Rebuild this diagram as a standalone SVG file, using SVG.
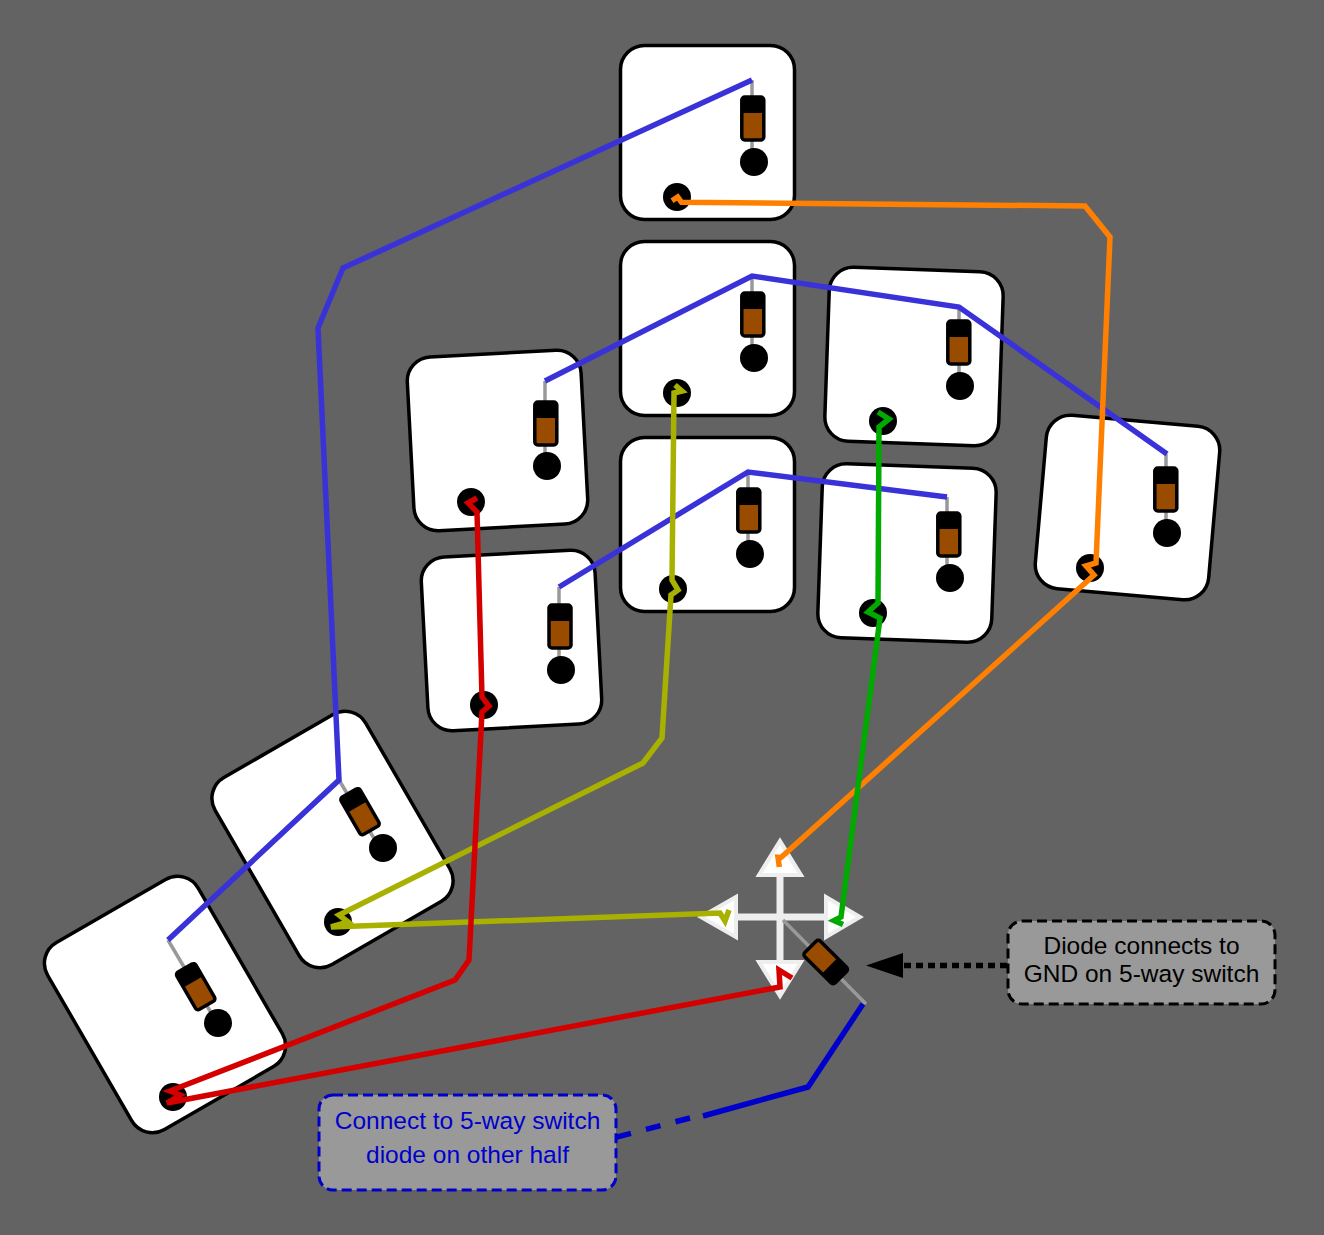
<svg xmlns="http://www.w3.org/2000/svg" width="1324" height="1235" viewBox="0 0 1324 1235">
<style>
.card{fill:#fff;stroke:#000;stroke-width:3.500}
.lead{stroke:#999;stroke-width:3.500;fill:none}
.body{fill:#994c00;stroke:#000;stroke-width:3.500}
.band{fill:#000}
.w{fill:none;stroke-width:5.500;stroke-linejoin:miter;stroke-miterlimit:4}
.note{font-family:"Liberation Sans",Arial,sans-serif;font-size:24.500px;text-anchor:middle}
.sw{fill:none;stroke:#eee;stroke-width:7}
.tri{fill:#fff;stroke:#eee;stroke-width:4}
</style>
<defs>
<g id="diode">
<rect class="body" x="-11" y="-21.500" width="22" height="43" rx="3"/>
<path class="band" d="M-11-18.500a3 3 0 0 1 3-3H8a3 3 0 0 1 3 3V-5.500H-11Z"/>
</g>
<rect id="cardshape" class="card" x="-87" y="-87" width="174" height="174" rx="24"/>
<rect id="wideshape" class="card" x="-87" y="-108" width="174" height="216" rx="24"/>
</defs>
<rect width="1324" height="1235" fill="#636363"/>

<g id="switch">
<path class="sw" d="M780 876V961M737 917H825"/>
<path class="tri" d="M780 841L801 875H759Z"/>
<path class="tri" d="M780 996L801 962H759Z"/>
<path class="tri" d="M701 917L736 897V937Z"/>
<path class="tri" d="M860 917L826 897V937Z"/>
<path class="lead" d="M783 920L866 1004"/>
<use href="#diode" transform="translate(825.700 962) rotate(135)"/>
</g>

<g id="key1"><use href="#cardshape" transform="translate(707.500 132.500)"/><path class="lead" d="M752 80V155"/><use href="#diode" transform="translate(752.800 118.500)"/><circle cx="754" cy="162" r="14"/><circle cx="677" cy="197" r="14"/></g>
<g id="key2"><use href="#cardshape" transform="translate(707.500 328.500)"/><path class="lead" d="M752 276V351"/><use href="#diode" transform="translate(752.800 314.500)"/><circle cx="754" cy="358" r="14"/><circle cx="677" cy="393" r="14"/></g>
<g id="key3"><use href="#cardshape" transform="translate(707.500 524.500)"/><path class="lead" d="M748 472V547"/><use href="#diode" transform="translate(748.800 510.500)"/><circle cx="750" cy="554" r="14"/><circle cx="673" cy="589" r="14"/></g>
<g id="key4"><use href="#cardshape" transform="translate(914 356.500) rotate(2)"/><path class="lead" d="M959 307V379"/><use href="#diode" transform="translate(958.800 342.500)"/><circle cx="960" cy="386" r="14"/><circle cx="883" cy="421" r="14"/></g>
<g id="key5"><use href="#cardshape" transform="translate(907 553) rotate(2)"/><path class="lead" d="M947 497V571"/><use href="#diode" transform="translate(948.800 534.500)"/><circle cx="950" cy="578" r="14"/><circle cx="873" cy="613" r="14"/></g>
<g id="key6"><use href="#cardshape" transform="translate(1127.500 507.500) rotate(5)"/><path class="lead" d="M1166 454V526"/><use href="#diode" transform="translate(1165.800 489.500)"/><circle cx="1167" cy="533" r="14"/><circle cx="1090" cy="568" r="14"/></g>
<g id="key7"><use href="#cardshape" transform="translate(497.500 440.500) rotate(-3)"/><path class="lead" d="M545 381V459"/><use href="#diode" transform="translate(545.800 423.500)"/><circle cx="547" cy="466" r="14"/><circle cx="471" cy="502" r="14"/></g>
<g id="key8"><use href="#cardshape" transform="translate(511.500 640.500) rotate(-3)"/><path class="lead" d="M559 587V663"/><use href="#diode" transform="translate(560 626.500)"/><circle cx="561" cy="670" r="14"/><circle cx="484" cy="705" r="14"/></g>
<g id="key9"><use href="#wideshape" transform="translate(332.500 839.500) rotate(-30)"/><path class="lead" d="M339 780L378 845"/><use href="#diode" transform="translate(360 811.700) rotate(-30)"/><circle cx="383" cy="848" r="14"/><circle cx="338" cy="922" r="14"/></g>
<g id="key10"><use href="#wideshape" transform="translate(165 1004.500) rotate(-30)"/><path class="lead" d="M168 940L213 1016"/><use href="#diode" transform="translate(195.700 986.700) rotate(-30)"/><circle cx="218" cy="1023" r="14"/><circle cx="173" cy="1097" r="14"/></g>

<g id="connectors">
<path class="w" stroke="#3a32d9" d="M752 80L343 268L318 328L339 780L168 940"/>
<path class="w" stroke="#3a32d9" d="M545 381L752 276L959 307L1167 454"/>
<path class="w" stroke="#3a32d9" d="M559 587L748 472L947 497"/>
<path class="w" stroke="#ff8000" d="M672 200.700L677.700 197L681.500 202.300L1085 206L1110 237L1096 563L1086 566L1094 575L781 857.500L778 857.300L779.300 867"/>
<path class="w" stroke="#00aa00" d="M878 412L889 419L879 427L878 603L868 612L880 618L841 917L834 920.500L843 924.500"/>
<path class="w" stroke="#a8b000" d="M675 385L682 391L674 393L672 580L678 590L671 595L662 738L643 763L339 915L348 922L331 927L720 913L725 921L729 910"/>
<path class="w" stroke="#d40000" d="M477 498L468 503L477 512L482 697L489 706L482 712L469 960L455 980L170 1091L180 1095L167 1103L780 987L779 970L792 978"/>
<path class="w" stroke="#0000cc" d="M863 1004L808 1087L703 1116"/>
<path class="w" stroke="#0000cc" stroke-dasharray="15 15.500" d="M690 1118L613 1138"/>
<path fill="none" stroke="#000" stroke-width="5.500" stroke-dasharray="7 5" d="M1007 965.500H903"/>
<path d="M866 965.500L903 953V978Z"/>
</g>

<g id="note-gnd">
<rect x="1008" y="921" width="267" height="83" rx="14" fill="#999" stroke="#000" stroke-width="3" stroke-dasharray="10 5"/>
<text class="note" x="1141.500" y="953.500">Diode connects to</text>
<text class="note" x="1141.500" y="981.500">GND on 5-way switch</text>
</g>
<g id="note-other">
<rect x="319" y="1095" width="297" height="95" rx="14" fill="#999" stroke="#0000cc" stroke-width="3" stroke-dasharray="10 5"/>
<text class="note" x="467.500" y="1129" fill="#0000cc">Connect to 5-way switch</text>
<text class="note" x="467.500" y="1163" fill="#0000cc">diode on other half</text>
</g>
</svg>
